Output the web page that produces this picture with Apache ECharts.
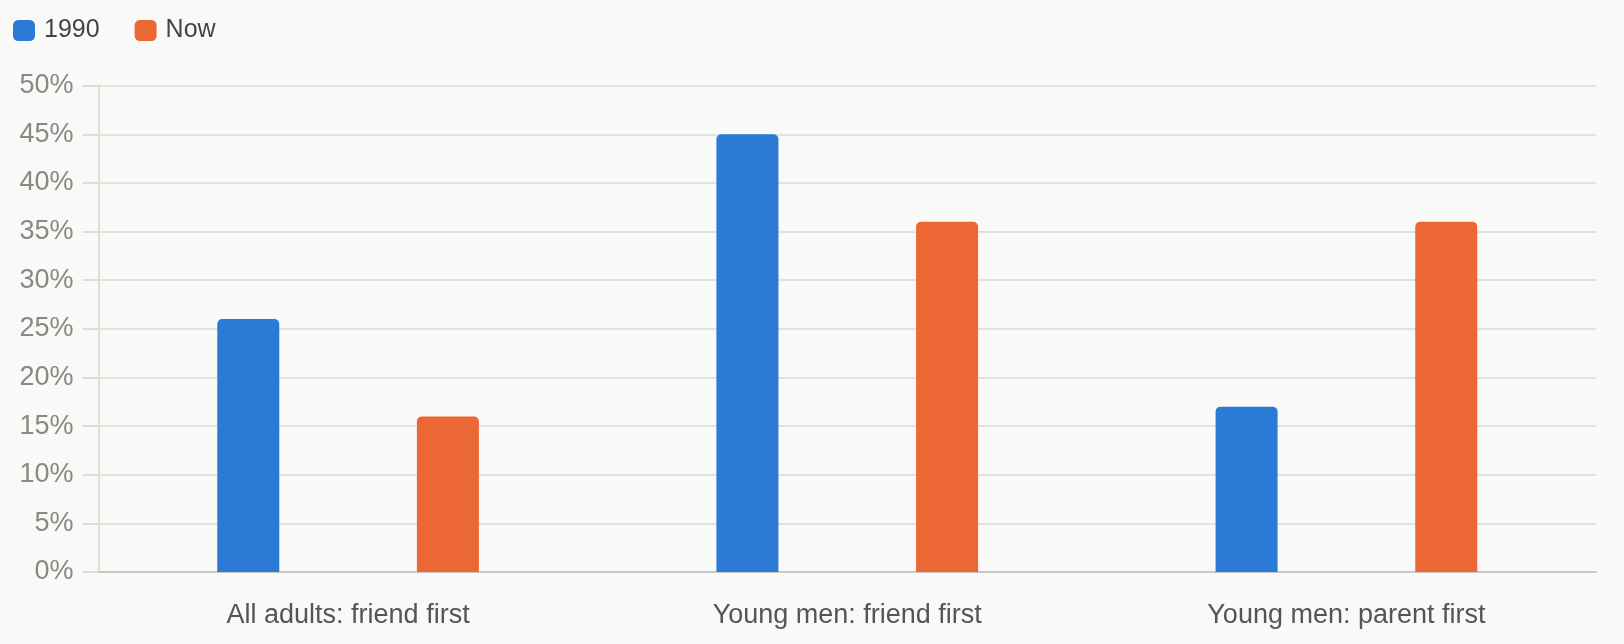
<!DOCTYPE html>
<html><head><meta charset="utf-8">
<script src="https://cdn.jsdelivr.net/npm/echarts@6/dist/echarts.min.js"></script>
<style>html,body{margin:0;padding:0;background:#f9f9f7;}#c{width:1624px;height:644px;}</style>
</head><body><div id="c"></div>
<script>
const categories = ['All adults: friend first', 'Young men: friend first', 'Young men: parent first'];
const series1990 = [26, 45, 17];
const seriesNow = [16, 36, 36];
const seriesNames = ['1990', 'Now'];

const chart = echarts.init(document.getElementById('c'));
const font = '"Liberation Sans", Arial, sans-serif';
chart.setOption({
  backgroundColor: '#f9f9f7',
  animation: false,
  legend: {
    left: 13, top: 18, padding: 0, itemWidth: 22, itemHeight: 21, itemGap: 35,
    icon: 'roundRect',
    textStyle: { fontSize: 25, color: '#444', fontFamily: font, padding: [0,0,0,4] },
    data: seriesNames
  },
  grid: { left: 98.5, right: 28, top: 85.7, bottom: 72, containLabel: false },
  xAxis: {
    type: 'category', data: categories,
    axisLine: { lineStyle: { color: '#c8c8c4', width: 2 } },
    axisTick: { show: false },
    axisLabel: { fontSize: 27, color: '#555', fontFamily: font, margin: 30 }
  },
  yAxis: {
    type: 'value', min: 0, max: 50, interval: 5,
    axisLine: { show: true, lineStyle: { color: '#deded9', width: 2 } },
    axisTick: { show: true, length: 16, lineStyle: { color: '#deded9', width: 2 } },
    splitLine: { lineStyle: { color: '#e2e2dc', width: 2 } },
    axisLabel: { fontSize: 27, color: '#888884', fontFamily: font, margin: 25, formatter: '{value}%' }
  },
  series: [
    { name: seriesNames[0], type: 'bar', data: series1990, barWidth: 62, barGap: '222%',
      itemStyle: { color: '#2a7ad6', borderRadius: [5,5,0,0] } },
    { name: seriesNames[1], type: 'bar', data: seriesNow, barWidth: 62,
      itemStyle: { color: '#eb6834', borderRadius: [5,5,0,0] } }
  ]
});
</script></body></html>
